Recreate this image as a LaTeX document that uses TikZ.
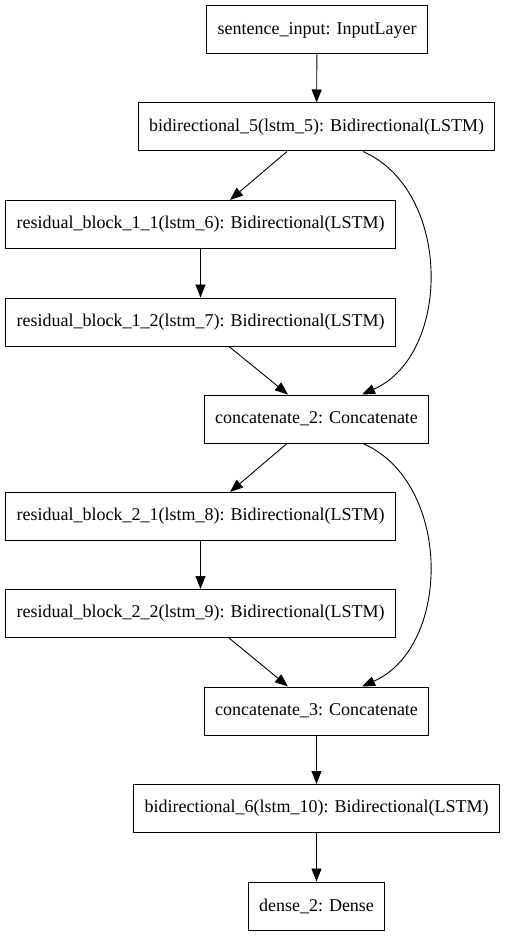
\documentclass[tikz,border=0pt]{standalone}
\usepackage{fontspec}
\setmainfont{Liberation Serif}
\newfontfamily\layerfont{Liberation Serif}
\usetikzlibrary{arrows.meta}
\begin{document}
\begin{tikzpicture}[x=1pt,y=-1pt]
		\tikzset{layer/.style = {shape=rectangle,draw,line width=1pt,minimum height=48pt,inner xsep=11pt,font=\layerfont\fontsize{18pt}{20pt}\selectfont}}
		\tikzset{flow/.style = {-{Triangle[length=13pt,width=10pt]},line width=0.9pt}}
		\useasboundingbox (0,0) rectangle (505,936);
		\node[layer] (input) at (317,30) {sentence\_input: InputLayer};
		\node[layer] (bi5) at (316.5,127) {bidirectional\_5(lstm\_5): Bidirectional(LSTM)};
		\node[layer] (rb11) at (200.5,224.5) {residual\_block\_1\_1(lstm\_6): Bidirectional(LSTM)};
		\node[layer] (rb12) at (200.5,322) {residual\_block\_1\_2(lstm\_7): Bidirectional(LSTM)};
		\node[layer] (cat2) at (316.5,419) {concatenate\_2: Concatenate};
		\node[layer] (rb21) at (200.5,516.5) {residual\_block\_2\_1(lstm\_8): Bidirectional(LSTM)};
		\node[layer] (rb22) at (200.5,613.5) {residual\_block\_2\_2(lstm\_9): Bidirectional(LSTM)};
		\node[layer] (cat3) at (316.5,711) {concatenate\_3: Concatenate};
		\node[layer] (bi6) at (316.5,808.5) {bidirectional\_6(lstm\_10): Bidirectional(LSTM)};
		\node[layer] (dense) at (316.5,906) {dense\_2: Dense};
		\draw[flow] (input) -- (bi5);
		\draw[flow] ([xshift=-29.5pt]bi5.south) -- ([xshift=29.5pt]rb11.north);
		\draw[flow] (rb11) -- (rb12);
		\draw[flow] ([xshift=28.5pt]rb12.south) -- ([xshift=-28.5pt]cat2.north);
		\draw[flow] ([xshift=46.5pt]bi5.south) .. controls +(89,39) and +(90,-40) .. ([xshift=45.5pt]cat2.north);
		\draw[flow] ([xshift=-29.5pt]cat2.south) -- ([xshift=29.5pt]rb21.north);
		\draw[flow] (rb21) -- (rb22);
		\draw[flow] ([xshift=28.5pt]rb22.south) -- ([xshift=-28.5pt]cat3.north);
		\draw[flow] ([xshift=46.5pt]cat2.south) .. controls +(89,39) and +(90,-40) .. ([xshift=45.5pt]cat3.north);
		\draw[flow] (cat3) -- (bi6);
		\draw[flow] (bi6) -- (dense);
	\end{tikzpicture}
\end{document}
